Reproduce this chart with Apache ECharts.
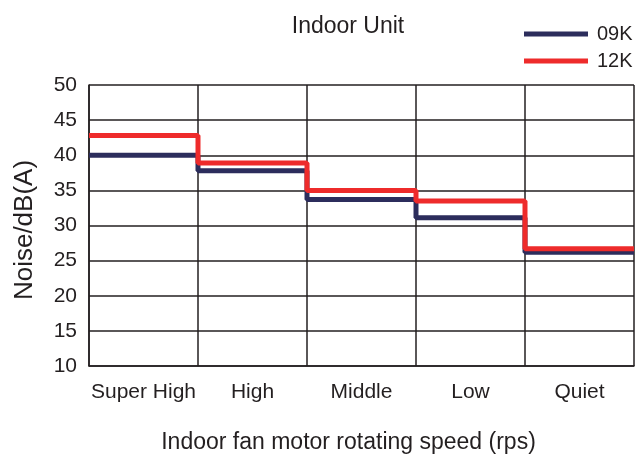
<!DOCTYPE html>
<html><head><meta charset="utf-8">
<script src="https://cdn.jsdelivr.net/npm/echarts@6/dist/echarts.min.js"></script>
<style>html,body{margin:0;padding:0;background:#fff}#c{width:636px;height:454px}</style>
</head><body><div id="c"></div>
<script>
var categories = ['Super High', 'High', 'Middle', 'Low', 'Quiet'];
var noise09K = [40, 37.8, 33.7, 31.1, 26.2];
var noise12K = [42.8, 38.9, 35, 33.5, 26.7];
var yTicks = [10, 15, 20, 25, 30, 35, 40, 45, 50];

function stepData(vals) {
  var d = vals.map(function (v, i) { return [i, v]; });
  d.push([vals.length, vals[vals.length - 1]]);
  return d;
}
var txt = '#231f20';
var font = 'Liberation Sans, Arial, sans-serif';
var chart = echarts.init(document.getElementById('c'));
chart.setOption({
  animation: false,
  title: { text: 'Indoor Unit', left: 343, textAlign: 'center', top: 10,
    textStyle: { fontSize: 23, fontWeight: 'normal', color: txt, fontFamily: font } },
  legend: { orient: 'vertical', left: 519, top: 19, itemGap: 7, icon: 'rect',
    itemWidth: 64, itemHeight: 5,
    textStyle: { fontSize: 20, color: txt, fontFamily: font, padding: [0, 0, 0, 4] },
    data: ['09K', '12K'] },
  grid: { left: 89, right: 2, top: 85, bottom: 88, containLabel: false, outerBoundsMode: 'none' },
  xAxis: [
    { type: 'value', min: 0, max: categories.length, interval: 1,
      axisLabel: { show: false }, axisTick: { show: false },
      axisLine: { lineStyle: { color: txt, width: 1.5 } },
      splitLine: { show: true, lineStyle: { color: txt, width: 1.5 } },
      name: 'Indoor fan motor rotating speed (rps)', nameLocation: 'middle', nameGap: 65,
      nameTextStyle: { fontSize: 23, color: txt, fontFamily: font, padding: [0, 26, 0, 0] } },
    { type: 'category', data: categories, position: 'bottom', boundaryGap: true,
      axisLine: { show: false }, axisTick: { show: false },
      axisLabel: { interval: 0, fontSize: 21, color: txt, fontFamily: font, margin: 16 } }
  ],
  yAxis: { type: 'value', min: yTicks[0], max: yTicks[yTicks.length - 1], interval: 5,
    axisLine: { show: true, lineStyle: { color: txt, width: 1.5 } },
    axisTick: { show: false },
    axisLabel: { fontSize: 21, color: txt, fontFamily: font, margin: 12 },
    splitLine: { show: true, lineStyle: { color: txt, width: 1.5 } },
    name: 'Noise/dB(A)', nameLocation: 'middle', nameRotate: 90, nameGap: 51,
    nameTextStyle: { fontSize: 26, color: txt, fontFamily: font, padding: [0, 9, 0, 0] } },
  series: [
    { name: '09K', type: 'line', step: 'end', xAxisIndex: 0, data: stepData(noise09K),
      showSymbol: false, itemStyle: { color: '#2c2d5c' },
      lineStyle: { color: '#2c2d5c', width: 5 } },
    { name: '12K', type: 'line', step: 'end', xAxisIndex: 0, data: stepData(noise12K),
      showSymbol: false, itemStyle: { color: '#ee2b2b' },
      lineStyle: { color: '#ee2b2b', width: 5 } }
  ]
});
</script></body></html>
